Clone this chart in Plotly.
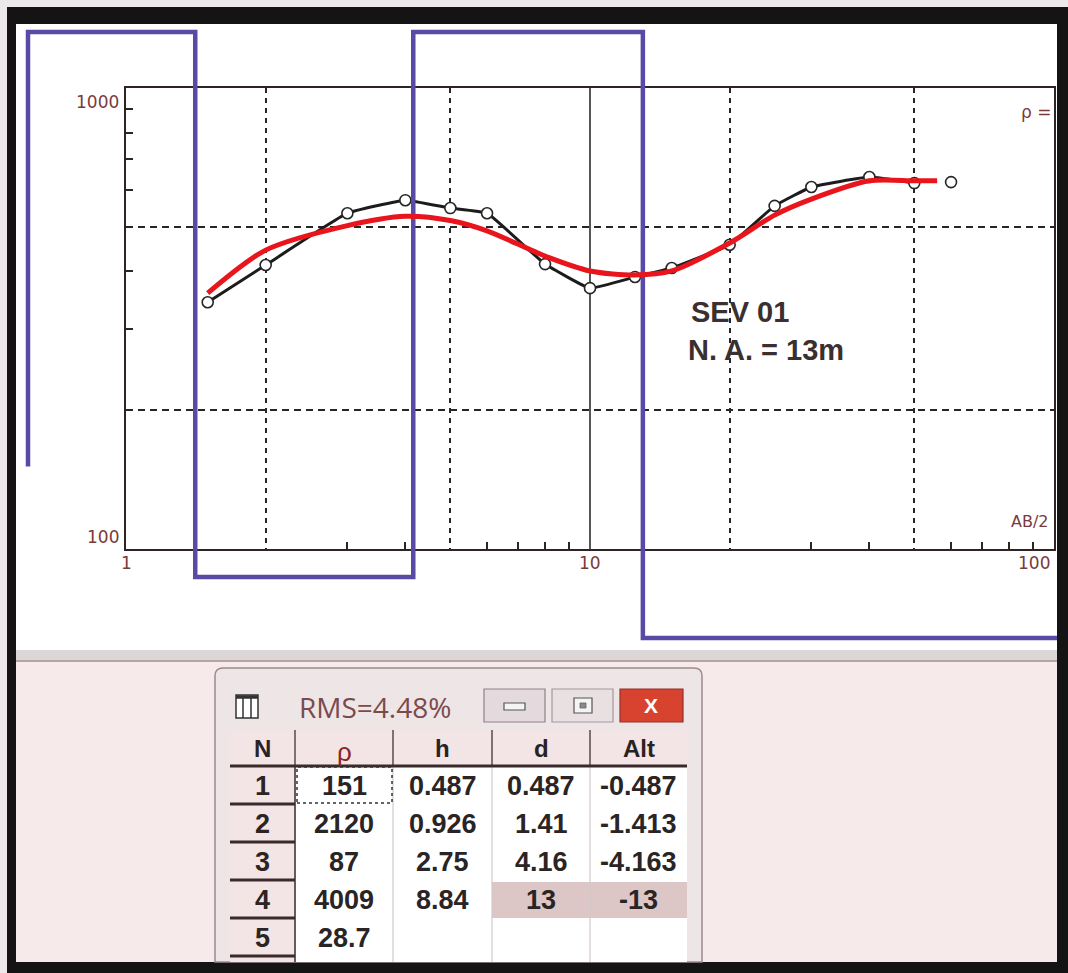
import numpy as np
import plotly.graph_objects as go

W, H = 1068, 973

# ---------------- data ----------------
ab2_obs = [1.5, 2, 3, 4, 5, 6, 8, 10, 12.5, 15, 20, 25, 30, 40, 50, 60]
rho_obs = [343, 413, 535, 571, 549, 535, 415, 368, 389, 407, 457, 555, 610, 641, 622, 625]
ab2_calc = [1.5, 2, 3, 4, 5, 6, 8, 10, 12.5, 15, 20, 25, 30, 40, 50, 56]
rho_calc = [359, 445, 503, 527, 516, 490, 432, 401, 393, 401, 461, 530, 574, 629, 629, 629]

layer_num = [1, 2, 3, 4, 5]
layer_rho = [151, 2120, 87, 4009, 28.7]
layer_h = [0.487, 0.926, 2.75, 8.84]
layer_d = [0.487, 1.41, 4.16, 13]
layer_alt = [-0.487, -1.413, -4.163, -13]
rms_pct = 4.48

table_cols = ["N", "ρ", "h", "d", "Alt"]
x_tick_labels = ["1", "10", "100"]
y_tick_labels = ["100", "1000"]
grid_x = [2, 5, 20, 50]
grid_y = [200, 500]
minor_x = [3, 4, 6, 7, 8, 9, 30, 40, 60, 70, 80, 90]
minor_y = [300, 400, 600, 700, 800, 900]
sounding_name = "SEV 01"
water_level = "N. A. = 13m"

# ---------------- layout constants (pixels) ----------------
L, R, T, B = 126, 1054, 88, 549          # plot box
DX = (R - L) / 2.0                        # px per decade (x)
DY = (B - T) / 1.0                        # px per decade (y)
WIN_X = (28, 1057)                        # model drawing window (px)
WIN_Y = (638, 32)


def xp(px):
    return px / W


def yp(py):
    return 1 - py / H


# model drawing is clamped to the program's drawing window
model_xlim = 10 ** ((np.array(WIN_X) - L) / DX)
model_ylim = 10 ** (2 - (np.array(WIN_Y) - B) / DY)
model_x = np.clip([model_xlim[0]] + layer_d + [model_xlim[1]], model_xlim[0], model_xlim[1])
model_y = np.clip(layer_rho + [layer_rho[-1]], model_ylim[0], model_ylim[1])

fig = go.Figure()

fig.add_trace(go.Scatter(x=ab2_obs[:15], y=rho_obs[:15], mode="lines", line_shape="spline",
                         line=dict(color="#1c1c1c", width=3, smoothing=0.3),
                         xaxis="x2", yaxis="y2", hoverinfo="skip"))
fig.add_trace(go.Scatter(x=ab2_obs, y=rho_obs, mode="markers",
                         marker=dict(symbol="circle", size=11, color="white",
                                     line=dict(color="#262626", width=1.6)),
                         xaxis="x2", yaxis="y2"))
fig.add_trace(go.Scatter(x=model_x, y=model_y, mode="lines", line_shape="hv",
                         line=dict(color="#5a4aa6", width=4.5),
                         xaxis="x2", yaxis="y2", hoverinfo="skip"))
fig.add_trace(go.Scatter(x=ab2_calc, y=rho_calc, mode="lines", line_shape="spline",
                         line=dict(color="#e8161c", width=5, smoothing=0.8),
                         xaxis="x2", yaxis="y2", hoverinfo="skip"))

shapes = []


def rect(x0, y0, x1, y1, fill=None, line=None, lw=0, layer="below", dash=None):
    ln = dict(color=line or "rgba(0,0,0,0)", width=lw)
    if dash:
        ln["dash"] = dash
    shapes.append(dict(type="rect", xref="paper", yref="paper",
                       x0=xp(x0), x1=xp(x1), y0=yp(y1), y1=yp(y0),
                       fillcolor=fill or "rgba(0,0,0,0)", line=ln, layer=layer))


def seg(x0, y0, x1, y1, color, lw, layer="above", dash=None):
    ln = dict(color=color, width=lw)
    if dash:
        ln["dash"] = dash
    shapes.append(dict(type="line", xref="paper", yref="paper",
                       x0=xp(x0), x1=xp(x1), y0=yp(y0), y1=yp(y1), line=ln, layer=layer))


# backgrounds
rect(16, 24, 1057, 650, fill="#ffffff")
rect(16, 650, 1057, 660, fill="#dcd6d7")
seg(16, 661, 1057, 661, "#a88e90", 1.5, layer="below")
rect(16, 662, 1057, 962, fill="#f7eaea")
# photo black frame
rect(7, 7, 1068, 24, fill="#141414")
rect(7, 7, 16, 973, fill="#141414")
rect(1057, 7, 1068, 973, fill="#141414")
rect(7, 962, 1068, 973, fill="#141414")

# solid grid line at 10
shapes.append(dict(type="line", xref="x", yref="y domain", x0=10, x1=10, y0=0, y1=1,
                   line=dict(color="#1e1e1e", width=1.5), layer="below"))

# ---------------- table window ----------------
wl, wr, wt, wb = 215, 702, 668, 962
r = 8
path = (f"M {xp(wl)},{yp(wb)} L {xp(wl)},{yp(wt + r)} Q {xp(wl)},{yp(wt)} {xp(wl + r)},{yp(wt)} "
        f"L {xp(wr - r)},{yp(wt)} Q {xp(wr)},{yp(wt)} {xp(wr)},{yp(wt + r)} L {xp(wr)},{yp(wb)} Z")
shapes.append(dict(type="path", xref="paper", yref="paper", path=path,
                   fillcolor="#eee5e7", line=dict(color="#9c8b92", width=1.5), layer="above"))
# icon
rect(236, 695, 258, 718, fill="#ffffff", line="#333333", lw=1.5, layer="above")
seg(236, 697, 258, 697, "#333333", 3.5)
seg(243, 697, 243, 718, "#333333", 1.5)
seg(251, 697, 251, 718, "#333333", 1.5)
# buttons
rect(484, 689, 545, 722, fill="#e4dadd", line="#8f8188", lw=1.2, layer="above")
rect(504, 703, 525, 710, fill="#f4f4f4", line="#555555", lw=1.2, layer="above")
rect(552, 689, 613, 722, fill="#e9e0e2", line="#a3979c", lw=1.2, layer="above")
rect(574, 698, 592, 713, fill="#f4f4f4", line="#555555", lw=1.2, layer="above")
rect(580, 703, 586, 708, fill="#888888", line="#666666", lw=0.8, layer="above")
rect(620, 689, 683, 722, fill="#d8432f", line="#93302a", lw=1.2, layer="above")

# table grid
col_edges = [230, 295, 393, 492, 590, 687]
row_edges = [730, 766, 804, 842, 880, 918, 956]
tb_bottom = 962
rect(col_edges[0], row_edges[0], col_edges[-1], row_edges[1], fill="#f3e4e5", layer="above")
rect(col_edges[0], row_edges[1], col_edges[1], tb_bottom, fill="#f3e4e5", layer="above")
rect(col_edges[1], row_edges[1], col_edges[-1], tb_bottom, fill="#ffffff", layer="above")
rect(col_edges[3], row_edges[4] + 2, col_edges[5], row_edges[5], fill="#dcc6c6", layer="above")
for cx in col_edges[2:5]:
    seg(cx, row_edges[1], cx, tb_bottom, "#d2c8c9", 1.2)
for cx in col_edges[1:5]:
    seg(cx, row_edges[0], cx, row_edges[1], "#5a4a4c", 1.5)
seg(col_edges[1], row_edges[1], col_edges[1], tb_bottom, "#5a4a4c", 1.8)
seg(col_edges[0], row_edges[1], col_edges[-1], row_edges[1], "#3a2a2c", 3)
for ry in row_edges[2:]:
    seg(col_edges[0], ry, col_edges[1], ry, "#3a2a2c", 3)
rect(col_edges[1] + 2, row_edges[1] + 1, col_edges[2] - 1, row_edges[2] - 1,
     line="#333333", lw=1.5, layer="above", dash="dot")

annotations = []


def text(x, y, s, size, color, family="DejaVu Sans", xanchor="center", bold=False):
    annotations.append(dict(x=xp(x), y=yp(y), xref="paper", yref="paper", text=(f"<b>{s}</b>" if bold else s),
                            showarrow=False, xanchor=xanchor, yanchor="middle",
                            font=dict(size=size, color=color, family=family)))


tick_col = "#7a3a3c"
text(121, 102, y_tick_labels[1], 17, tick_col, xanchor="right")
text(121, 537, y_tick_labels[0], 17, tick_col, xanchor="right")
text(L, 563, x_tick_labels[0], 17, tick_col)
text(590, 563, x_tick_labels[1], 17, tick_col)
text(1052, 563, x_tick_labels[2], 17, tick_col, xanchor="right")
text(1051, 521, "AB/2", 16, tick_col, xanchor="right")
text(1019, 112, "ρ =", 17, tick_col, xanchor="left")

text(689, 312, sounding_name, 29, "#3a302f", family="Liberation Sans", xanchor="left", bold=True)
text(686, 350, water_level, 29, "#3a302f", family="Liberation Sans", xanchor="left", bold=True)

text(297, 707, f"RMS={rms_pct:.2f}%", 28, "#7a4a4c", family="Open Sans", xanchor="left")
text(651, 705, "X", 21, "#ffffff", family="Liberation Sans", bold=True)

ccx = [(col_edges[i] + col_edges[i + 1]) / 2 for i in range(5)]
rcy = [(row_edges[i] + row_edges[i + 1]) / 2 for i in range(6)]
for i, name in enumerate(table_cols):
    if name == "ρ":
        text(ccx[i], rcy[0] + 4, name, 26, "#8a2628", family="Liberation Sans")
    else:
        text(ccx[i], rcy[0], name, 24, "#2a2222", family="Liberation Sans", bold=True)

columns = [
    [f"{v}" for v in layer_num],
    [f"{v:g}" for v in layer_rho],
    [f"{v:g}" for v in layer_h],
    [f"{v:g}" for v in layer_d],
    [f"{v:g}" for v in layer_alt],
]
for ci, col in enumerate(columns):
    for ri, s in enumerate(col):
        text(ccx[ci], rcy[ri + 1] + 1, s, 27, "#2a2424", family="Liberation Sans", bold=True)

axis_col = "#2e2424"
fig.update_layout(
    width=W, height=H, margin=dict(l=0, r=0, t=0, b=0),
    paper_bgcolor="#ebe9e9", plot_bgcolor="rgba(0,0,0,0)", showlegend=False,
    xaxis=dict(type="log", range=[0, 2], domain=[xp(L), xp(R)], anchor="y",
               tickvals=grid_x, ticks="", showticklabels=False,
               showgrid=True, gridcolor="#262626", gridwidth=1.5, griddash="5px,5px",
               showline=True, mirror=True, linecolor=axis_col, linewidth=1.5, zeroline=False,
               minor=dict(tickvals=minor_x, ticks="inside", ticklen=7, tickcolor=axis_col,
                          tickwidth=1.5, showgrid=False),
               fixedrange=True),
    yaxis=dict(type="log", range=[2, 3], domain=[yp(B), yp(T)], anchor="x",
               tickvals=grid_y, ticks="", showticklabels=False,
               showgrid=True, gridcolor="#262626", gridwidth=1.5, griddash="7px,5px",
               showline=True, mirror=True, linecolor=axis_col, linewidth=1.5, zeroline=False,
               minor=dict(tickvals=minor_y, ticks="inside", ticklen=7, tickcolor=axis_col,
                          tickwidth=1.5, showgrid=False),
               fixedrange=True),
    xaxis2=dict(type="log", domain=[0, 1], anchor="y2", visible=False, fixedrange=True,
                range=[-L / DX, (W - L) / DX]),
    yaxis2=dict(type="log", domain=[0, 1], anchor="x2", visible=False, fixedrange=True,
                range=[2 - (H - B) / DY, 3 + T / DY]),
    shapes=shapes,
    annotations=annotations,
)

fig.write_html("out.html", config={"displayModeBar": False},
               post_script="document.body.style.margin='0px';")
